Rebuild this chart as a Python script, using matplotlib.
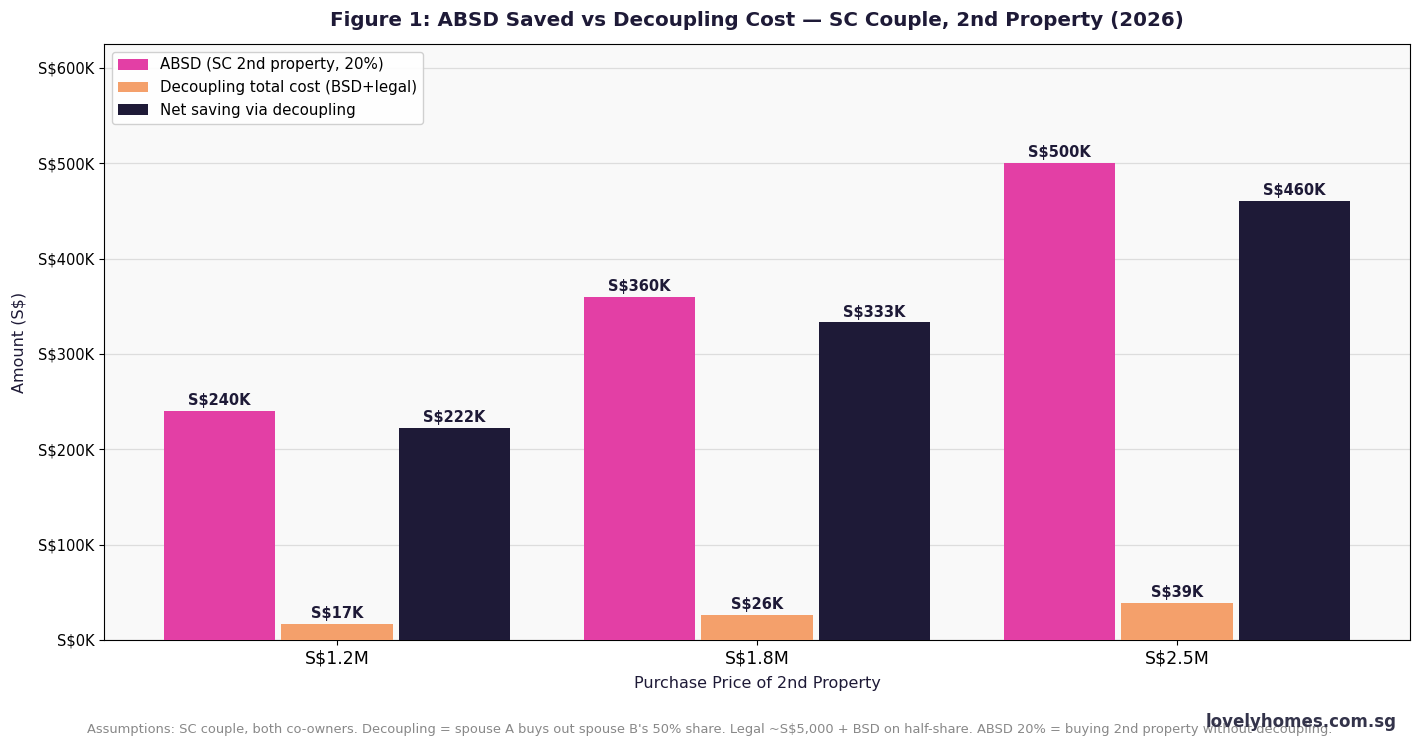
import numpy as np
import matplotlib
matplotlib.use("Agg")
import matplotlib.pyplot as plt
import matplotlib.ticker as mticker

# ── Data (S$ thousands)
prices = ["S$1.2M", "S$1.8M", "S$2.5M"]
absd = [240, 360, 500]
decouple_cost = [17, 26, 39]
net_saving = [222, 333, 460]

series_labels = ["ABSD (SC 2nd property, 20%)",
                 "Decoupling total cost (BSD+legal)",
                 "Net saving via decoupling"]
colors = ["#e33fa5", "#f4a06b", "#1e1a37"]
navy = "#1e1a37"

fig = plt.figure(figsize=(14.2, 7.47), dpi=100)
ax = fig.add_axes([104 / 1420, 1 - 640 / 747, 1306 / 1420, 596 / 747])
ax.set_facecolor("#f9f9f9")

x = np.arange(len(prices))
off, w = 0.28, 0.265
for i, (vals, lab, c) in enumerate(zip([absd, decouple_cost, net_saving], series_labels, colors)):
    bars = ax.bar(x + (i - 1) * off, vals, width=w, color=c, label=lab, zorder=3)
    for b, v in zip(bars, vals):
        ax.text(b.get_x() + b.get_width() / 2, v + 3, f"S${v}K",
                ha="center", va="bottom", fontsize=10.5, fontweight="bold",
                color=navy, zorder=4)

ax.set_xlim(-0.555, 2.555)
ax.set_ylim(0, 625)
ax.yaxis.set_major_locator(mticker.MultipleLocator(100))
ax.yaxis.set_major_formatter(mticker.FuncFormatter(lambda v, p: f"S${v:.0f}K"))
ax.set_xticks(x)
ax.set_xticklabels(prices, fontsize=12.5)
ax.tick_params(axis="y", labelsize=10.5)
ax.grid(axis="y", color="#dddddd", linewidth=0.9, zorder=0)
ax.set_axisbelow(True)

ax.set_xlabel("Purchase Price of 2nd Property", fontsize=11.5, color=navy, labelpad=6)
ax.set_ylabel("Amount (S$)", fontsize=11.5, color=navy, labelpad=8)
ax.set_title("Figure 1: ABSD Saved vs Decoupling Cost — SC Couple, 2nd Property (2026)",
             fontsize=14.3, fontweight="bold", color=navy, pad=13)

ax.legend(loc="upper left", fontsize=10.8, framealpha=0.9, edgecolor="#cccccc",
          borderaxespad=0.5)

# footer note + watermark (they touch in the original too)
fig.text(0.5, 1 - 729 / 747, "Assumptions: SC couple, both co-owners. Decoupling = spouse A buys out spouse B's 50% share. "
         "Legal ~S$5,000 + BSD on half-share. ABSD 20% = buying 2nd property without decoupling.",
         ha="center", va="center", fontsize=9.4, color="#888888")
fig.text(1397 / 1420, 1 - 722 / 747, "lovelyhomes.com.sg", ha="right", va="center",
         fontsize=12, fontweight="bold", color="#33334a")

fig.savefig("out.png", dpi=100)
